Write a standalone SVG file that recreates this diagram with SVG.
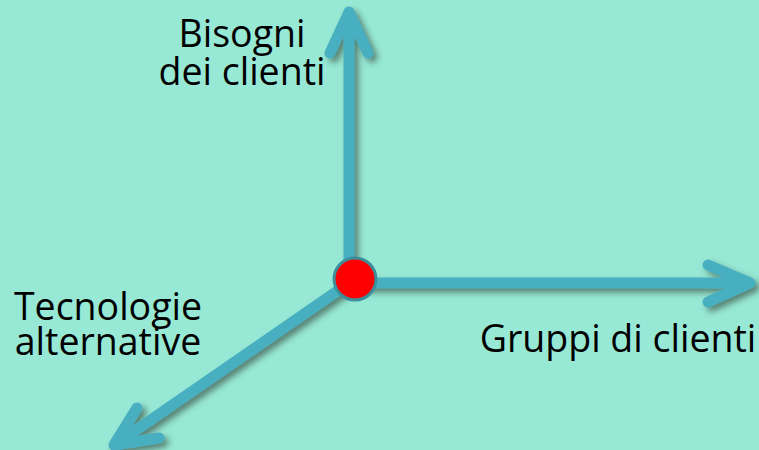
<svg xmlns="http://www.w3.org/2000/svg" width="759" height="450" viewBox="0 0 759 450">
  <defs>
    <filter id="shadow" x="-20%" y="-20%" width="140%" height="140%">
      <feDropShadow dx="4" dy="4" stdDeviation="3" flood-color="#2a3a36" flood-opacity="0.6"/>
    </filter>
  </defs>
  <style>
    .axis { fill: none; stroke: #46AFBF; stroke-width: 11; stroke-linecap: round; stroke-linejoin: round; }
    .label { font-family: "Open Sans", "Noto Sans", sans-serif; font-size: 37.5px; fill: #000000; text-anchor: middle; }
  </style>
  <rect x="0" y="0" width="759" height="450" fill="#97E9D5"/>
  <g id="connectors" filter="url(#shadow)">
    <path class="axis" d="M349,283 L349,13"/>
    <path class="axis" d="M330,53 L349,12 L368,53"/>
    <path class="axis" d="M349,283 L748,283"/>
    <path class="axis" d="M708,265 L750,283 L708,302"/>
    <path class="axis" d="M349,283 L116,444"/>
    <path class="axis" d="M137,408 L114,445 L159,438"/>
  </g>
  <g id="origin">
    <circle cx="355" cy="279" r="21" fill="#FF0000" stroke="#3A8F9B" stroke-width="3"/>
  </g>
  <g id="label-bisogni">
    <text class="label" x="242" y="47">Bisogni</text>
    <text class="label" x="242" y="85">dei clienti</text>
  </g>
  <g id="label-tecnologie">
    <text class="label" x="108" y="320">Tecnologie</text>
    <text class="label" x="108" y="355">alternative</text>
  </g>
  <g id="label-gruppi">
    <text class="label" x="618" y="352">Gruppi di clienti</text>
  </g>
</svg>
